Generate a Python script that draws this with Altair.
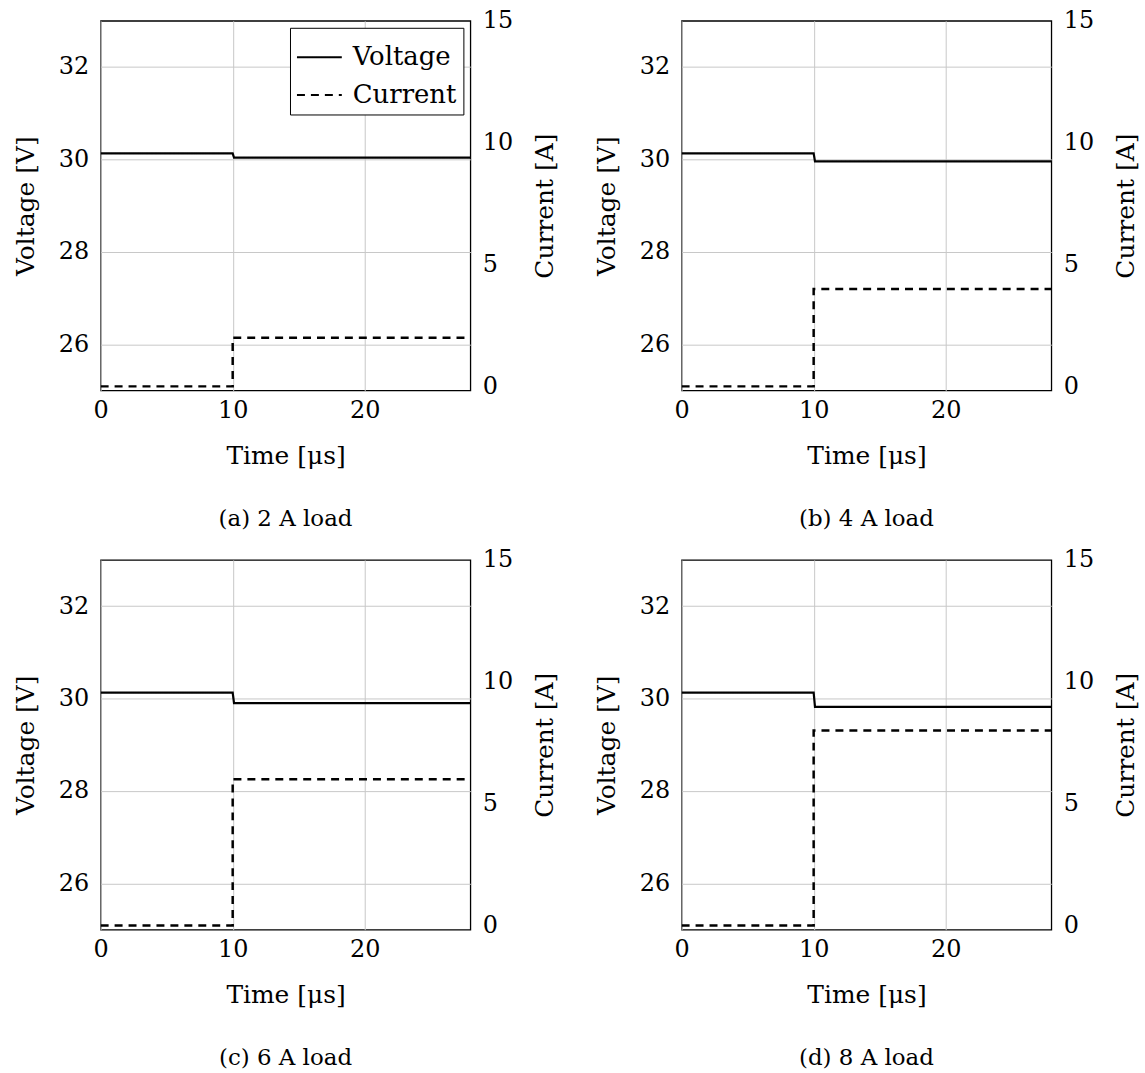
import altair as alt
import pandas as pd

# ---- data ----
time_v = [0.0, 10.0, 10.1, 28.0]
time_i = [0.0, 10.0, 10.0, 28.0]
v_before = 30.13
v_after = [30.04, 29.96, 29.90, 29.82]
loads = [2, 4, 6, 8]
captions = ["(a) 2 A load", "(b) 4 A load", "(c) 6 A load", "(d) 8 A load"]
volt_ticks = [26, 28, 30, 32]
curr_ticks = [0, 5, 10, 15]
time_ticks = [0, 10, 20]

FONT = "DejaVu Serif"
W = 371
H = 371

dash_scale = alt.Scale(domain=["Voltage", "Current"], range=[[1, 0], [8, 6]])


def panel(k, show_legend):
    va = v_after[k]
    df_v = pd.DataFrame({
        "t": time_v,
        "value": [v_before, v_before, va, va],
        "series": ["Voltage"] * 4,
        "idx": list(range(4)),
    })
    df_i = pd.DataFrame({
        "t": time_i,
        "value": [0, 0, loads[k], loads[k]],
        "series": ["Current"] * 4,
        "idx": list(range(4)),
    })
    if show_legend:
        leg = alt.Legend(
            title=None, orient="top-right", offset=7,
            symbolType="stroke", symbolSize=2025, symbolStrokeWidth=2,
            symbolStrokeColor="black", symbolFillColor="black",
            labelFontSize=26, labelFont=FONT, labelColor="black",
            labelOffset=10, strokeColor="black", fillColor="white",
            padding=6, cornerRadius=0, rowPadding=1,
        )
    else:
        leg = None

    x = alt.X("t:Q", scale=alt.Scale(domain=[0, 28], nice=False, zero=False),
              axis=alt.Axis(title="Time [μs]", values=time_ticks, grid=True,
                            labelPadding=8, titlePadding=21))

    volt = alt.Chart(df_v).mark_line(color="black", strokeWidth=2.2, clip=True).encode(
        x=x,
        y=alt.Y("value:Q", scale=alt.Scale(domain=[25, 33], nice=False, zero=False),
                axis=alt.Axis(title="Voltage [V]", values=volt_ticks, grid=True,
                              orient="left", labelPadding=12, titlePadding=20)),
        strokeDash=alt.StrokeDash("series:N", scale=dash_scale, legend=leg),
        order="idx:Q",
    )
    curr = alt.Chart(df_i).mark_line(color="black", strokeWidth=2.5, clip=True).encode(
        x=x,
        y=alt.Y("value:Q", scale=alt.Scale(domain=[-0.17, 15], nice=False, zero=False),
                axis=alt.Axis(title="Current [A]", values=curr_ticks, grid=False,
                              orient="right", labelPadding=12, titlePadding=20,
                              titleAngle=270, titleBaseline="top")),
        strokeDash=alt.StrokeDash("series:N", scale=dash_scale, legend=leg),
        order="idx:Q",
    )
    return alt.layer(volt, curr).resolve_scale(y="independent").properties(
        width=W, height=H,
        title=alt.TitleParams(captions[k], orient="bottom", anchor="middle",
                              frame="group", fontSize=23, font=FONT,
                              fontWeight="normal", color="black", offset=40),
    )


panels = [panel(k, k == 0) for k in range(4)]

chart = alt.concat(*panels, columns=2, spacing={"row": 15, "column": 34}).resolve_scale(
    strokeDash="independent"
).resolve_legend(strokeDash="independent").properties(
    padding={"left": 12, "top": 6, "right": 5, "bottom": 5},
    background="white",
).configure_view(
    stroke="black", strokeWidth=1.3
).configure_axis(
    labelFont=FONT, titleFont=FONT, labelFontSize=24, titleFontSize=25,
    titleFontWeight="normal", labelColor="black", titleColor="black",
    domain=False, ticks=False, tickSize=0, gridColor="#c8c8c8", gridWidth=1,
    labelBound=False, labelFlush=False, labelOverlap=False,
)

chart.save("out.html", embed_options={"renderer": "svg", "actions": False})
